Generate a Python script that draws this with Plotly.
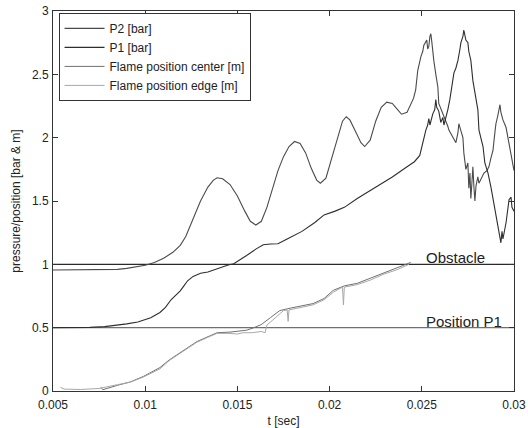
import plotly.graph_objects as go

# ---- measured pressures [bar] ----
T_P2 = [0.005, 0.006, 0.007, 0.008, 0.0085, 0.009, 0.0095, 0.01, 0.0105, 0.011,
        0.0115, 0.0119, 0.0122, 0.0126, 0.013, 0.0134, 0.0137, 0.0139, 0.0142, 0.0146,
        0.015, 0.0154, 0.0157, 0.016, 0.0163, 0.0166, 0.0169, 0.0172, 0.0175, 0.0178,
        0.0181, 0.0184, 0.0187, 0.019, 0.0193, 0.0195, 0.0198, 0.0201, 0.0204, 0.0207,
        0.0209, 0.0211, 0.0214, 0.0217, 0.0219, 0.0222, 0.0225, 0.0228, 0.0231, 0.0234,
        0.0237, 0.0239, 0.0242, 0.0244, 0.02455, 0.02467, 0.02478, 0.02495, 0.02505, 0.02511,
        0.0252, 0.02527, 0.02532, 0.02538, 0.02544, 0.02549, 0.02554, 0.0256, 0.02565, 0.02576,
        0.02587, 0.02592, 0.02603, 0.02614, 0.0262, 0.0263, 0.02641, 0.02647, 0.02658, 0.02668,
        0.02685, 0.02696, 0.02701, 0.02707, 0.02712, 0.02723, 0.02728, 0.02739, 0.0275, 0.02755,
        0.02761, 0.02766, 0.02772, 0.02777, 0.02783, 0.02788, 0.02794, 0.02804, 0.0281, 0.02821,
        0.02837, 0.02853, 0.02864, 0.02875, 0.02886, 0.02897, 0.02902, 0.02913, 0.02924, 0.02929,
        0.0294, 0.02957, 0.02967, 0.02973, 0.02984, 0.02995, 0.03]
P2 = [0.955, 0.955, 0.955, 0.956, 0.96, 0.968, 0.978, 0.993, 1.015, 1.048,
      1.095, 1.15, 1.22, 1.36, 1.5, 1.61, 1.665, 1.683, 1.675, 1.63,
      1.54, 1.42, 1.34, 1.31, 1.34, 1.45, 1.6, 1.74, 1.85, 1.93,
      1.97, 1.955, 1.88, 1.76, 1.665, 1.64, 1.68, 1.83, 2.0, 2.13,
      2.165, 2.14, 2.05, 1.96, 1.93, 1.98, 2.13, 2.24, 2.28, 2.27,
      2.22, 2.185, 2.2, 2.26, 2.31, 2.38, 2.53, 2.64, 2.68, 2.73,
      2.76, 2.77, 2.70, 2.72, 2.80, 2.82, 2.76, 2.66, 2.61, 2.5,
      2.4, 2.27, 2.23, 2.19, 2.17, 2.14, 2.09, 2.06, 2.03, 2.0,
      1.96, 2.04, 2.11, 2.08, 2.06, 2.0, 1.88, 1.75, 1.8, 1.6,
      1.72, 1.52, 1.65, 1.77, 1.6, 1.5, 1.62, 1.69, 1.64, 1.67,
      1.72, 1.74, 1.77, 1.84, 1.9, 2.05, 2.11, 2.18, 2.26, 2.2,
      2.14, 2.08, 2.0, 1.96, 1.88, 1.8, 1.74]

T_P1 = [0.005, 0.006, 0.007, 0.0078, 0.0085, 0.009, 0.0096, 0.0103, 0.0108, 0.0111,
        0.0114, 0.0117, 0.0119, 0.0121, 0.0123, 0.0126, 0.013, 0.0134, 0.0138, 0.0141,
        0.0145, 0.0148, 0.0152, 0.0155, 0.016, 0.0164, 0.0168, 0.0172, 0.0177, 0.0185,
        0.0192, 0.0197, 0.0203, 0.0208, 0.0215, 0.0225, 0.0234, 0.0242, 0.0246, 0.02489,
        0.02495, 0.02506, 0.02522, 0.02532, 0.02538, 0.02544, 0.0256, 0.0257, 0.02576, 0.02581,
        0.02592, 0.02603, 0.02614, 0.0262, 0.0263, 0.02641, 0.02652, 0.02663, 0.02674, 0.02685,
        0.02696, 0.02707, 0.02712, 0.02723, 0.02728, 0.02739, 0.0275, 0.02755, 0.02766, 0.02777,
        0.02783, 0.02794, 0.02804, 0.0281, 0.02821, 0.02832, 0.02842, 0.02859, 0.02875, 0.02891,
        0.02902, 0.02918, 0.02924, 0.02929, 0.02935, 0.0294, 0.02957, 0.02967, 0.02973, 0.02984,
        0.02989, 0.03]
P1 = [0.5, 0.5, 0.502, 0.508, 0.52, 0.53, 0.545, 0.578, 0.62, 0.66,
      0.72, 0.76, 0.79, 0.83, 0.87, 0.905, 0.93, 0.94, 0.96, 0.98,
      0.995, 1.005, 1.04, 1.07, 1.12, 1.155, 1.16, 1.162, 1.2, 1.26,
      1.33, 1.39, 1.42, 1.45, 1.52, 1.61, 1.69, 1.77, 1.81, 1.86,
      1.9, 1.96, 2.06, 2.1, 2.15, 2.1, 2.19, 2.22, 2.3, 2.24,
      2.21, 2.12, 2.16, 2.1, 2.15, 2.22, 2.3, 2.4, 2.51, 2.55,
      2.61, 2.7, 2.75, 2.8, 2.85, 2.77, 2.75, 2.68, 2.61, 2.45,
      2.4, 2.28, 2.22, 2.06, 2.0, 1.93, 1.8, 1.72, 1.61, 1.48,
      1.4, 1.25, 1.2, 1.17, 1.26, 1.2, 1.33, 1.42, 1.51, 1.53,
      1.45, 1.42]

# ---- flame front positions [m] ----
T_CENTER = [0.0076, 0.0077, 0.0085, 0.0092, 0.0099, 0.0108, 0.0113, 0.0121, 0.0128, 0.0135,
            0.0139, 0.0146, 0.015, 0.0155, 0.0159, 0.0163, 0.0168, 0.0173, 0.0179, 0.0184,
            0.0191, 0.0197, 0.0202, 0.0208, 0.0215, 0.0222, 0.0229, 0.0237, 0.0244]
CENTER = [0.03, 0.01, 0.045, 0.072, 0.115, 0.185, 0.245, 0.325, 0.39, 0.435,
          0.46, 0.465, 0.47, 0.48, 0.5, 0.525, 0.58, 0.635, 0.655, 0.67,
          0.69, 0.73, 0.795, 0.83, 0.85, 0.89, 0.93, 0.97, 1.015]

T_EDGE = [0.0054, 0.0056, 0.0065, 0.0075, 0.0085, 0.0092, 0.0099, 0.0108, 0.0113, 0.0121,
          0.0128, 0.0135, 0.0139, 0.0145, 0.015, 0.0153, 0.0158, 0.0163, 0.0165, 0.0166,
          0.0169, 0.0172, 0.0175, 0.0177, 0.01775, 0.0178, 0.0184, 0.0191, 0.0197, 0.0202,
          0.0207, 0.02075, 0.0208, 0.0215, 0.0222, 0.0229, 0.0237, 0.0243]
EDGE = [0.03, 0.015, 0.012, 0.02, 0.05, 0.07, 0.11, 0.175, 0.24, 0.315,
        0.385, 0.43, 0.455, 0.455, 0.45, 0.46, 0.46, 0.47, 0.46, 0.52,
        0.56, 0.6, 0.635, 0.64, 0.55, 0.64, 0.66, 0.68, 0.72, 0.78,
        0.82, 0.68, 0.82, 0.84, 0.875, 0.92, 0.96, 1.0]

# ---- reference levels ----
OBSTACLE = 1.0
POSITION_P1 = 0.5
T_RANGE = [0.005, 0.03]

X_TICKS = [0.005, 0.01, 0.015, 0.02, 0.025, 0.03]
X_TICK_TEXT = ["0.005", "0.01", "0.015", "0.02", "0.025", "0.03"]
Y_TICKS = [0, 0.5, 1, 1.5, 2, 2.5, 3]
Y_TICK_TEXT = ["0", "0.5", "1", "1.5", "2", "2.5", "3"]

FONT = "Liberation Sans, Arial, Helvetica, sans-serif"

fig = go.Figure()

fig.add_trace(go.Scatter(x=T_RANGE, y=[OBSTACLE, OBSTACLE], mode="lines",
                         line=dict(color="#2a2a2a", width=1.2), showlegend=False,
                         hoverinfo="skip"))
fig.add_trace(go.Scatter(x=T_RANGE, y=[POSITION_P1, POSITION_P1], mode="lines",
                         line=dict(color="#707070", width=1.2), showlegend=False,
                         hoverinfo="skip"))

fig.add_trace(go.Scatter(x=T_P2, y=P2, mode="lines", name="P2 [bar]",
                         line=dict(color="#4a4a4a", width=1.1)))
fig.add_trace(go.Scatter(x=T_P1, y=P1, mode="lines", name="P1 [bar]",
                         line=dict(color="#2e2e2e", width=1.1)))
fig.add_trace(go.Scatter(x=T_CENTER, y=CENTER, mode="lines", name="Flame position center [m]",
                         line=dict(color="#707070", width=1)))
fig.add_trace(go.Scatter(x=T_EDGE, y=EDGE, mode="lines", name="Flame position edge [m]",
                         line=dict(color="#a8a8a8", width=1)))

fig.add_annotation(x=0.0251, y=OBSTACLE, xref="x", yref="y", text="Obstacle",
                   showarrow=False, xanchor="left", yanchor="bottom", yshift=-4,
                   font=dict(family=FONT, size=15, color="#222222"))
fig.add_annotation(x=0.0251, y=POSITION_P1, xref="x", yref="y", text="Position P1",
                   showarrow=False, xanchor="left", yanchor="bottom", yshift=-4,
                   font=dict(family=FONT, size=15, color="#222222"))

axis_common = dict(
    showline=True, linecolor="#333333", linewidth=1, mirror="ticks",
    ticks="inside", ticklen=5, tickcolor="#333333", tickwidth=1,
    showgrid=False, zeroline=False, automargin=False,
    tickfont=dict(family=FONT, size=12, color="#222222"),
)

fig.update_xaxes(range=T_RANGE, tickvals=X_TICKS, ticktext=X_TICK_TEXT,
                 ticklabelstandoff=3,
                 title=dict(text="t [sec]", font=dict(family=FONT, size=12, color="#222222"),
                            standoff=7),
                 **axis_common)
fig.update_yaxes(range=[0, 3], tickvals=Y_TICKS, ticktext=Y_TICK_TEXT,
                 ticklabelstandoff=1,
                 title=dict(text="pressure/position [bar &amp; m]",
                            font=dict(family=FONT, size=12, color="#222222"), standoff=8),
                 **axis_common)

fig.update_layout(
    width=528, height=428,
    margin=dict(l=53, r=14, t=11, b=37),
    paper_bgcolor="white", plot_bgcolor="white",
    font=dict(family=FONT, size=12, color="#222222"),
    legend=dict(x=0.012, y=0.995, xanchor="left", yanchor="top",
                bgcolor="white", bordercolor="#333333", borderwidth=1,
                font=dict(family=FONT, size=12, color="#222222"),
                tracegroupgap=0, itemwidth=40),
    showlegend=True,
)

fig.write_html("out.html")
